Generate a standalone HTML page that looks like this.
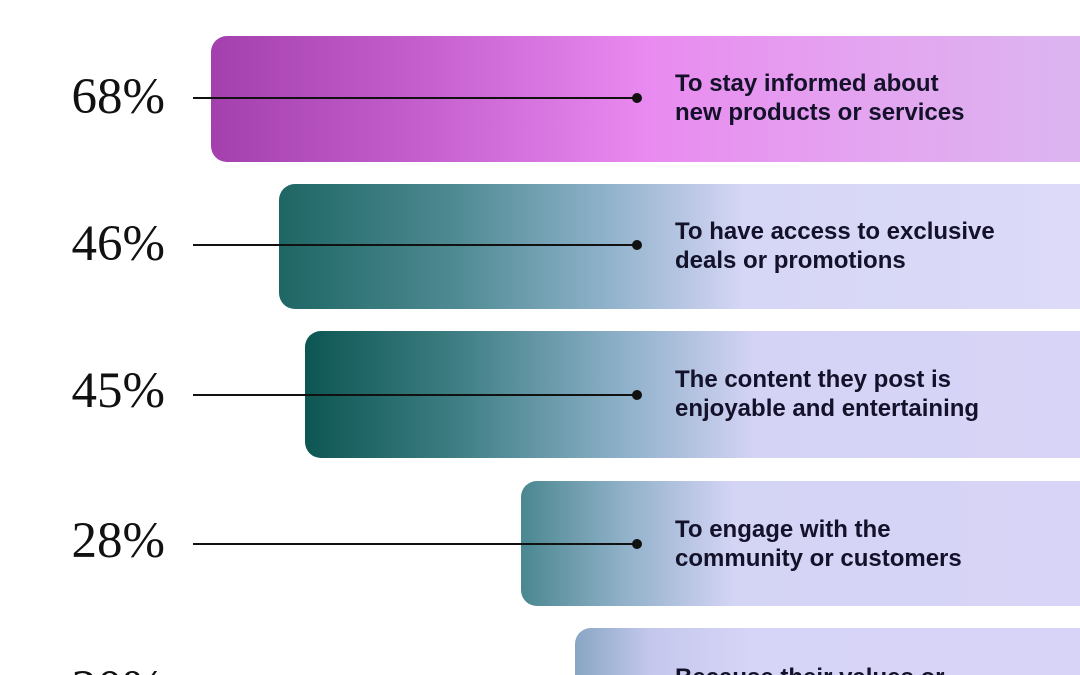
<!DOCTYPE html>
<html style="height:675px;overflow:hidden"><head><style>
body{margin:0;width:1080px;height:675px;background:#fff;position:relative;overflow:hidden;font-family:"Liberation Sans",sans-serif}
.bar{position:absolute;right:0;height:126px;border-radius:16px 0 0 16px}
.pct{position:absolute;left:0;width:165px;text-align:right;font-family:"Liberation Serif",serif;font-size:51px;color:#111}
.line{position:absolute;left:193px;width:444px;height:2px;background:#111}
.dot{position:absolute;left:632px;width:10px;height:10px;border-radius:50%;background:#111}
.t{position:absolute;left:675px;font-weight:bold;font-size:24px;letter-spacing:0px;line-height:29px;color:#14122a;white-space:nowrap}
</style></head><body>
<div class="bar" style="left:211px;top:36px;background:linear-gradient(90deg,#a43fae 0%,#c660cf 25%,#e98af0 50%,#e4a4f0 75%,#dcb5f0 100%)"></div>
<div class="bar" style="left:279px;top:184px;height:125px;background:linear-gradient(90deg,#1e6664 0%,#4e8a92 22%,#8cb0c8 40%,#d6d6f6 58%,#dcdaf8 100%)"></div>
<div class="bar" style="left:305px;top:331px;height:127px;background:linear-gradient(90deg,#0d5652 0%,#3f7f85 20%,#8aaec6 40%,#d4d3f5 58%,#d8d4f7 100%)"></div>
<div class="bar" style="left:521px;top:481px;height:125px;background:linear-gradient(90deg,#4a878f 0%,#8fb0c8 18%,#d4d4f5 38%,#d8d4f7 100%)"></div>
<div class="bar" style="left:575px;top:628px;height:47px;border-radius:16px 0 0 0;background:linear-gradient(90deg,#88a6c3 0%,#c4c8ec 15%,#d6d4f7 35%,#d8d4f7 100%)"></div>

<div class="pct" style="top:68px">68%</div>
<div class="pct" style="top:215px">46%</div>
<div class="pct" style="top:362px">45%</div>
<div class="pct" style="top:512px">28%</div>
<div style="position:absolute;left:0;top:655px;width:1080px;height:20px;overflow:hidden">
<div class="pct" style="top:5px">20%</div>
<div class="t" style="top:8px">Because their values or</div>
</div>

<div class="line" style="top:97px"></div><div class="dot" style="top:93px"></div>
<div class="line" style="top:244px"></div><div class="dot" style="top:240px"></div>
<div class="line" style="top:394px"></div><div class="dot" style="top:390px"></div>
<div class="line" style="top:543px"></div><div class="dot" style="top:539px"></div>

<div class="t" style="top:69px">To stay informed about<br>new products or services</div>
<div class="t" style="top:217px">To have access to exclusive<br>deals or promotions</div>
<div class="t" style="top:365px">The content they post is<br>enjoyable and entertaining</div>
<div class="t" style="top:515px">To engage with the<br>community or customers</div>
</body></html>
